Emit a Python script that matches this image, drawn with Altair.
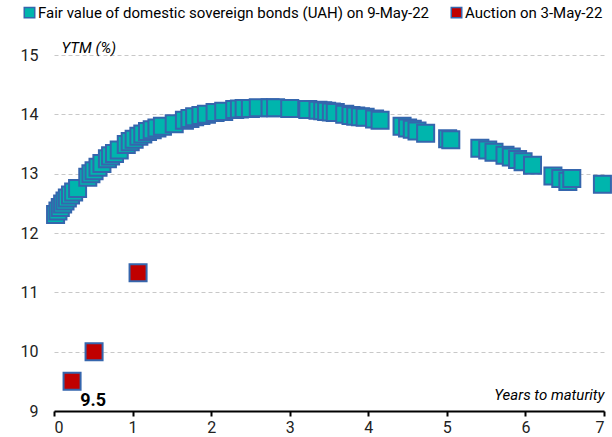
import altair as alt
import pandas as pd

FV_LABEL = "Fair value of domestic sovereign bonds (UAH) on 9-May-22"
AU_LABEL = "Auction on 3-May-22"

fv_years = [0.02, 0.05, 0.08, 0.11, 0.14, 0.17, 0.21, 0.25, 0.30,
            0.43, 0.47, 0.51, 0.56, 0.61, 0.68, 0.72, 0.77, 0.83,
            0.92, 0.97, 1.02, 1.08, 1.13, 1.19, 1.25, 1.31, 1.38, 1.53,
            1.66, 1.73, 1.79, 1.87, 1.94, 2.05, 2.16,
            2.30, 2.36, 2.42, 2.50, 2.60, 2.75, 2.82, 3.00, 3.23,
            3.36, 3.42, 3.47, 3.53, 3.58, 3.70, 3.78, 3.84, 3.90, 3.96,
            4.08, 4.15, 4.43, 4.50, 4.56, 4.62, 4.73, 5.01, 5.05,
            5.42, 5.52, 5.60, 5.74, 5.82, 5.90, 5.97, 6.09,
            6.35, 6.45, 6.54, 6.59, 6.98]
fv_ytm = [12.31, 12.37, 12.43, 12.49, 12.54, 12.59, 12.64, 12.69, 12.75,
          12.94, 13.00, 13.05, 13.11, 13.17, 13.25, 13.30, 13.34, 13.40,
          13.49, 13.54, 13.58, 13.63, 13.67, 13.71, 13.74, 13.77, 13.80, 13.84,
          13.90, 13.93, 13.96, 13.98, 14.00, 14.03, 14.05,
          14.08, 14.09, 14.10, 14.10, 14.11, 14.11, 14.11, 14.10, 14.08,
          14.07, 14.06, 14.05, 14.04, 14.03, 14.00, 13.98, 13.97, 13.96, 13.95,
          13.92, 13.90, 13.80, 13.77, 13.75, 13.72, 13.68, 13.59, 13.57,
          13.43, 13.40, 13.36, 13.31, 13.28, 13.24, 13.20, 13.14,
          12.96, 12.92, 12.87, 12.92, 12.82]

au_years = [0.23, 0.51, 1.07]
au_ytm = [9.5, 10.0, 11.33]
au_labels = ["9.5", "", ""]

FONT = "Roboto, Liberation Sans, sans-serif"

df = pd.DataFrame({
    "years": fv_years + au_years,
    "ytm": fv_ytm + au_ytm,
    "series": [FV_LABEL] * len(fv_years) + [AU_LABEL] * len(au_years),
    "label": [""] * len(fv_years) + au_labels,
})

x = alt.X("years:Q",
          scale=alt.Scale(domain=[0, 7], nice=False, zero=False),
          axis=alt.Axis(values=list(range(0, 8)), title="Years to maturity",
                        titleFontStyle="italic", titleFontWeight="normal",
                        titleFont=FONT, titleFontSize=15, titleColor="black",
                        titleAnchor="end", titleAlign="right", titleX=550, titleY=-12,
                        titleBaseline="alphabetic",
                        grid=False, domainColor="black", domainWidth=2,
                        tickColor="black", tickWidth=2, tickSize=5,
                        labelFont=FONT, labelFontSize=16, labelColor="#222",
                        labelPadding=3, format="d"))
y = alt.Y("ytm:Q",
          scale=alt.Scale(domain=[9, 15], nice=False, zero=False),
          axis=alt.Axis(values=list(range(9, 16)), title="YTM (%)",
                        titleFontStyle="italic", titleFontWeight="normal",
                        titleFont=FONT, titleFontSize=15, titleColor="black",
                        titleAngle=0, titleAlign="left", titleX=7, titleY=-3,
                        titleBaseline="alphabetic",
                        domain=False, ticks=False,
                        grid=True, gridColor="#c8c8c8", gridDash=[4, 3], gridWidth=1,
                        labelFont=FONT, labelFontSize=16, labelColor="#222",
                        labelPadding=16, format="d"))

points = alt.Chart(df).mark_point(
    shape="square", filled=True, size=290, opacity=1,
    stroke="#3566ad", strokeWidth=2
).encode(
    x=x, y=y,
    color=alt.Color("series:N",
                    scale=alt.Scale(domain=[FV_LABEL, AU_LABEL],
                                    range=["#00b5ad", "#c00000"]),
                    legend=alt.Legend(title=None, orient="none", direction="horizontal",
                                      legendX=-32, legendY=-50,
                                      symbolType="square", symbolSize=110,
                                      symbolStrokeColor="#3566ad", symbolStrokeWidth=1.5,
                                      symbolOpacity=1,
                                      labelFont=FONT, labelFontSize=15, labelColor="black",
                                      labelOffset=1, columnPadding=18, labelLimit=500)),
)

labels = alt.Chart(df).mark_text(
    font=FONT, fontSize=18, fontWeight="bold", color="black",
    align="center", baseline="middle", dx=21, dy=20
).encode(x="years:Q", y="ytm:Q", text="label:N")

chart = alt.layer(points, labels).properties(
    width=550, height=356,
    autosize=alt.AutoSizeParams(type="none"),
    padding={"left": 54, "top": 55, "right": 8, "bottom": 26},
).configure_view(stroke=None)

chart.save("out.html", embed_options={"renderer": "svg", "actions": False})
